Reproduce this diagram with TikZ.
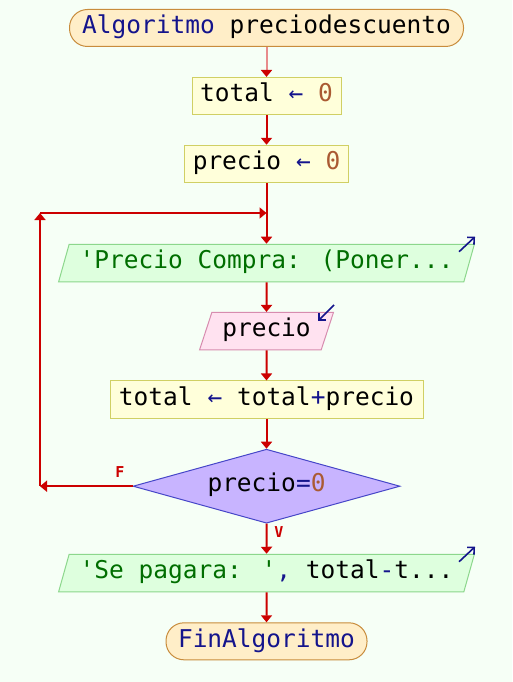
\documentclass[tikz,border=0pt]{standalone}
\usepackage{fontspec}
\usetikzlibrary{arrows.meta,shapes.geometric}
\newfontfamily\codefont[Ligatures=TeXOff]{DejaVu Sans Mono}
\definecolor{bg}{RGB}{246,255,246}
\definecolor{kw}{RGB}{20,20,140}
\definecolor{num}{RGB}{170,90,50}
\definecolor{str}{RGB}{0,110,0}
\definecolor{arrowred}{RGB}{204,0,0}
\definecolor{termfill}{RGB}{255,238,200}
\definecolor{termdraw}{RGB}{200,140,60}
\definecolor{procfill}{RGB}{255,255,218}
\definecolor{procdraw}{RGB}{208,208,100}
\definecolor{outfill}{RGB}{222,255,222}
\definecolor{outdraw}{RGB}{140,215,140}
\definecolor{infill}{RGB}{255,226,240}
\definecolor{indraw}{RGB}{215,140,175}
\definecolor{decfill}{RGB}{200,180,255}
\definecolor{decdraw}{RGB}{70,70,200}
\begin{document}
\begin{tikzpicture}[x=1pt,y=-1pt,
  base/.style={inner sep=0pt, font=\codefont\fontsize{24.5}{28}\selectfont,
    text height=18.4pt, text depth=6.9pt, line width=1pt},
  term/.style={base, rectangle, rounded corners=18pt, draw=termdraw, fill=termfill, minimum height=37pt},
  proc/.style={base, rectangle, draw=procdraw, fill=procfill, minimum height=37.5pt},
  para/.style={base, trapezium, trapezium left angle=68.5, trapezium right angle=111.5,
    trapezium stretches=true, minimum height=37.5pt},
  outp/.style={para, draw=outdraw, fill=outfill},
  inp/.style={para, draw=indraw, fill=infill},
  dec/.style={base, diamond, aspect=3.6, draw=decdraw, fill=decfill},
  conn/.style={draw=arrowred, line width=2pt, -{Triangle[width=11pt,length=7pt,color=arrowred]}},
  lbl/.style={text=arrowred, inner sep=0pt, font=\codefont\bfseries\fontsize{15}{18}\selectfont},
  icon/.style={draw=kw, line width=1.6pt, -{Straight Barb[length=5pt,width=10pt]}}
]
\useasboundingbox[fill=bg] (0,0) rectangle (512,682);

\node[term, minimum width=394pt] (start) at (266.5,28) {{\color{kw}Algoritmo} preciodescuento};
\node[proc, minimum width=149pt] (b1) at (266.5,96.2) {total {\color{kw}←} {\color{num}0}};
\node[proc, minimum width=164pt] (b2) at (266.5,164) {precio {\color{kw}←} {\color{num}0}};
\node[outp, minimum width=417pt] (o1) at (266.5,263) {{\color{str}'Precio Compra: (Poner...}};
\node[inp, minimum width=134pt] (in) at (266.5,331.2) {precio};
\node[proc, minimum width=313pt] (b3) at (266.5,399.7) {total {\color{kw}←} total{\color{kw}+}precio};
\node[dec, minimum width=267pt, minimum height=74pt] (d) at (266.5,486.2) {precio{\color{kw}=}{\color{num}0}};
\node[outp, minimum width=417pt] (o2) at (266.5,573) {{\color{str}'Se pagara: '}{\color{kw},} total{\color{kw}-}t...};
\node[term, minimum width=201pt] (end) at (266.5,641.3) {{\color{kw}FinAlgoritmo}};

\coordinate (c1) at (40,486.2);
\coordinate (c2) at (40,213);
\coordinate (c3) at (266.5,213);

\draw[conn, draw=arrowred!45] (start) -- (b1);
\draw[conn] (b1) -- (b2);
\draw[conn] (b2) -- (o1);
\draw[conn] (o1) -- (in);
\draw[conn] (in) -- (b3);
\draw[conn] (b3) -- (d);
\draw[conn] (d.west) -- (c1);
\draw[conn] (c1) -- (c2);
\draw[conn] (c2) -- (c3);
\draw[conn] (d.south) -- (o2);
\draw[conn] (o2) -- (end);

\node[lbl] (lf) at (120,472) {F};
\node[lbl] (lv) at (279,532) {V};

\draw[icon] ([xshift=-16pt,yshift=-8pt]o1.top right corner) -- ([yshift=7pt]o1.top right corner);
\draw[icon] ([xshift=-16pt,yshift=-8pt]o2.top right corner) -- ([yshift=7pt]o2.top right corner);
\draw[icon] ([yshift=7pt]in.top right corner) -- ([xshift=-16pt,yshift=-9pt]in.top right corner);
\end{tikzpicture}
\end{document}
